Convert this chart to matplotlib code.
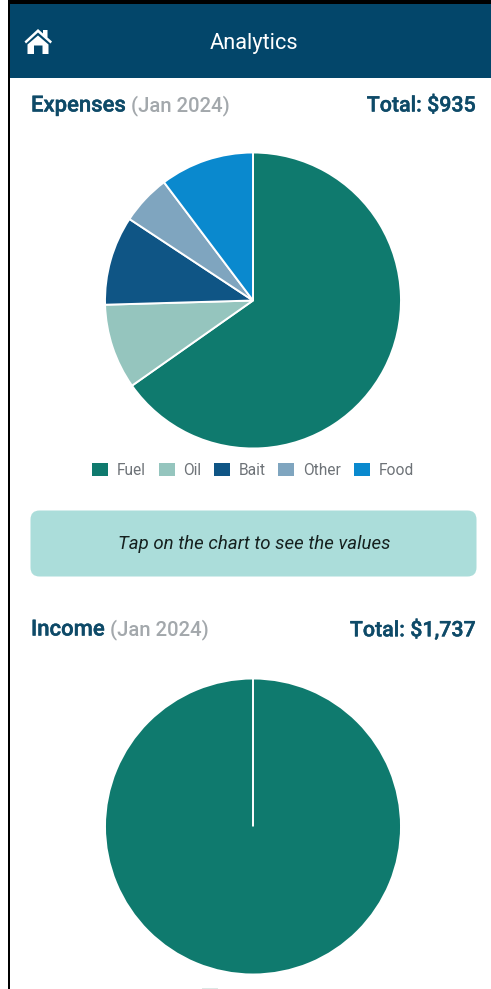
import matplotlib
matplotlib.use("Agg")
import matplotlib.pyplot as plt
import matplotlib.patheffects as pe
from matplotlib.patches import Rectangle, FancyBboxPatch, Polygon

plt.rcParams['font.family'] = ['Roboto', 'DejaVu Sans']

expense_labels = ["Fuel", "Oil", "Bait", "Other", "Food"]
expense_values = [610, 87, 91, 51, 96]
expense_colors = ["#0F7A6E", "#95C5BE", "#0F5585", "#7FA5BF", "#0A89CE"]
# the second, empty slice gives the single seam the reference shows at 12 o'clock
income_values = [1737, 0]
income_colors = ["#0F7A6E", "#0F7A6E"]

W, H = 491, 989
NAVY = "#03466A"
TITLE = "#0E4A68"
GREY = "#A3A8AC"

fig = plt.figure(figsize=(W/100, H/100), dpi=100, facecolor="white")
bg = fig.add_axes([0, 0, 1, 1], zorder=0)
bg.set_xlim(0, W); bg.set_ylim(H, 0); bg.axis("off")

# screenshot frame and header
bg.add_patch(Rectangle((8, 0), W-8, 4, color="black", lw=0))
bg.add_patch(Rectangle((8, 0), 2, H, color="black", lw=0))
bg.add_patch(Rectangle((10, 4), W-10, 73.5, color=NAVY, lw=0))
# home icon
bg.add_patch(Polygon([(24.5,41.5),(38,29),(43,33.5),(43,30),(47.5,30),(47.5,37.5),(52,41.5),(50.5,43.5),(38,32.5),(26,43.5)], color="white", lw=0))
bg.add_patch(Polygon([(27.5,44.5),(38,35.5),(48.5,44.5),(48.5,54),(42.5,54),(42.5,45.5),(34,45.5),(34,54),(27.5,54)], color="white", lw=0))
bg.text(253.5, 43, "Analytics", color="white", fontsize=15.7, ha="center", va="center")

def heavy(t, color):
    t.set_path_effects([pe.withStroke(linewidth=0.3, foreground=color)])

def heading(x, y, main, rest, total):
    t = bg.text(x, y, main, color=TITLE, fontsize=15.9, fontweight="medium", ha="left", va="center")
    heavy(t, TITLE)
    fig.canvas.draw()
    bb = t.get_window_extent()
    bg.text(bb.x1 + 5, y, rest, color=GREY, fontsize=14.6, fontweight="medium", ha="left", va="center")
    t2 = bg.text(476, y, total, color=TITLE, fontsize=15.4, fontweight="medium", ha="right", va="center")
    heavy(t2, TITLE)

heading(31, 106, "Expenses", "(Jan 2024)", "Total: $935")
heading(31, 630, "Income", "(Jan 2024)", "Total: $1,737")

# tip box
bg.add_patch(FancyBboxPatch((38, 518), 431, 51, boxstyle="round,pad=7.5,rounding_size=9", lw=0, fc="#ABDDDA"))
bg.text(254.5, 544, "Tap on the chart to see the values", color="#16211F", fontsize=13.4,
        style="italic", ha="center", va="center")

def draw_pie(cx, cy, r, values, colors):
    ax = fig.add_axes([(cx-r-2)/W, 1-(cy+r+2)/H, (2*r+4)/W, (2*r+4)/H], zorder=1)
    wedges, _ = ax.pie(values, colors=colors, startangle=90, counterclock=False,
                       radius=1, wedgeprops=dict(edgecolor="white", linewidth=1.4))
    ax.set_xlim(-(r+2)/r, (r+2)/r); ax.set_ylim(-(r+2)/r, (r+2)/r)
    ax.set_aspect("equal")
    return wedges

w1 = draw_pie(253, 300.5, 148, expense_values, expense_colors)
leg = bg.legend(w1, expense_labels, ncol=5, loc="upper center",
                bbox_to_anchor=(253/W, 1-462.5/H), bbox_transform=fig.transFigure,
                frameon=False, fontsize=11.2, labelcolor="#6E7378",
                handlelength=1.03, handleheight=0.9, handletextpad=0.58,
                columnspacing=0.79, borderpad=0, borderaxespad=0)
for h in leg.legend_handles:
    h.set_edgecolor("none"); h.set_linewidth(0)

draw_pie(253, 826.5, 148, income_values, income_colors)
# top edge of the next legend's swatch, cut off by the screenshot
bg.add_patch(Rectangle((202, 987.8), 16, 1.2, color="#DCE8E6", lw=0))

fig.savefig("out.png", dpi=100, facecolor="white")
